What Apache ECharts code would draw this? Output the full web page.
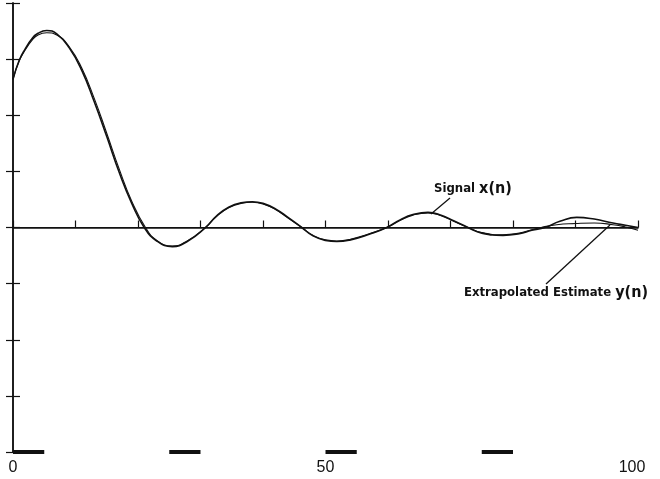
<!DOCTYPE html>
<html><head><meta charset="utf-8">
<script src="https://cdn.jsdelivr.net/npm/echarts@6/dist/echarts.min.js"></script>
<style>html,body{margin:0;padding:0;background:#fff}#c{width:660px;height:479px}</style>
</head><body><div id="c"></div>
<script>
// Signal x(n): hand-read points (n, value)
const signalN = [0, 1, 2, 3, 4, 5.4, 7, 9, 11, 13, 15, 17, 19, 21, 23, 25.5, 28, 30.8, 32.5, 34.5, 36.5, 38.3, 40, 42, 44, 46.2, 48, 50, 51.8, 54, 57, 59.8, 62, 64, 66.4, 68.5, 70.5, 72.8, 75, 78.4, 81, 83, 85.1, 87.5, 90.2, 93, 96, 98, 100];
const signalY = [2.64, 2.98, 3.19, 3.36, 3.46, 3.51, 3.45, 3.2, 2.8, 2.24, 1.62, 0.98, 0.43, 0, -0.24, -0.34, -0.24, 0, 0.2, 0.36, 0.44, 0.46, 0.43, 0.33, 0.18, 0, -0.15, -0.23, -0.25, -0.22, -0.12, 0, 0.14, 0.23, 0.27, 0.22, 0.12, 0, -0.1, -0.14, -0.11, -0.05, 0, 0.11, 0.18, 0.15, 0.08, 0.04, 0.0];
// Extrapolated estimate y(n)
const estimateN = [0, 1, 2, 3, 4, 5.4, 7, 9, 11, 13, 15, 17, 19, 21.2, 23, 25.5, 28, 30.8, 32.5, 34.5, 36.5, 38.3, 40, 42, 44, 46.2, 48, 50, 51.8, 54, 57, 59.8, 62, 64, 66.4, 68.5, 70.5, 72.8, 75, 78.4, 81, 83, 84.5, 87, 90, 93, 96, 98, 100];
const estimateY = [2.64, 2.97, 3.17, 3.33, 3.43, 3.47, 3.43, 3.22, 2.84, 2.3, 1.68, 1.04, 0.47, 0, -0.23, -0.33, -0.23, 0, 0.19, 0.35, 0.43, 0.45, 0.42, 0.32, 0.17, 0, -0.14, -0.22, -0.24, -0.21, -0.11, 0, 0.13, 0.22, 0.26, 0.21, 0.11, 0, -0.09, -0.13, -0.1, -0.04, 0.0, 0.05, 0.07, 0.08, 0.05, 0.01, -0.05];
// Thick segments on the n axis
const observedSegments = [[0, 5], [25, 30], [50, 55], [75, 80]];
const xLabelValues = [0, 50, 100];
const signalLabel = 'Signal ';
const signalLabelVar = 'x(n)';
const estimateLabel = 'Extrapolated Estimate ';
const estimateLabelVar = 'y(n)';

const zip = (a, b) => a.map((v, i) => [v, b[i]]);
const chart = echarts.init(document.getElementById('c'));
const black = '#111';
const segSeries = observedSegments.map(s => ({
  type: 'line', data: [[s[0], -4], [s[1], -4]], symbol: 'none', clip: false,
  lineStyle: { color: black, width: 4 }, silent: true, z: 5
}));
const textFont = 'DejaVu Sans Condensed';
const labelRich = {
  a: { fontFamily: textFont, fontSize: 13, fontWeight: 'bold', fill: black },
  b: { fontFamily: textFont, fontSize: 16, fontWeight: 'bold', fill: black }
};
chart.setOption({
  animation: false,
  backgroundColor: '#fff',
  grid: { left: 13, right: 22, top: 3, bottom: 27 },
  xAxis: [{
    type: 'value', min: 0, max: 100, interval: 10,
    axisLine: { lineStyle: { color: black, width: 1.5 } },
    axisTick: { inside: true, length: 7, lineStyle: { color: black, width: 1.2 } },
    axisLabel: { color: black, fontSize: 16, fontFamily: 'Liberation Sans', margin: 8,
      formatter: v => xLabelValues.includes(v) ? (v === 100 ? '{r|' + v + '}' : String(v)) : '',
      rich: { r: { fontSize: 16, fontFamily: 'Liberation Sans', color: black, padding: [0, 12, 0, 0] } } },
    splitLine: { show: false }
  }, {
    type: 'value', min: 0, max: 100, position: 'top',
    axisLine: { show: true, lineStyle: { color: black, width: 1.2 } },
    axisTick: { show: false }, axisLabel: { show: false }, splitLine: { show: false }
  }],
  yAxis: [{
    type: 'value', min: -4, max: 4, interval: 1,
    axisLine: { show: true, lineStyle: { color: black, width: 1.5 } },
    axisTick: { show: true, inside: true, length: 7, lineStyle: { color: black, width: 1.2 } },
    axisLabel: { show: false }, splitLine: { show: false }
  }, {
    type: 'value', min: -4, max: 4, interval: 1, position: 'right',
    axisLine: { show: true, lineStyle: { color: black, width: 1.5 } },
    axisTick: { show: true, inside: true, length: 7, lineStyle: { color: black, width: 1.2 } },
    axisLabel: { show: false }, splitLine: { show: false }
  }],
  series: [{
    name: 'Signal', type: 'line', data: zip(signalN, signalY), smooth: 0.5, symbol: 'none',
    lineStyle: { color: black, width: 1.6 }, z: 3,
    markLine: { silent: true, symbol: 'none', label: { show: false },
      lineStyle: { color: black, width: 1.2, type: 'solid' }, data: [{ yAxis: 0 }] }
  }, {
    name: 'Estimate', type: 'line', data: zip(estimateN, estimateY), smooth: 0.5, symbol: 'none',
    lineStyle: { color: black, width: 1.1 }, z: 2
  }].concat(segSeries),
  graphic: [
    { type: 'line', shape: { x1: 450, y1: 198, x2: 431, y2: 214 }, style: { stroke: black, lineWidth: 1.3 } },
    { type: 'text', left: 434, top: 181, style: { rich: labelRich,
      text: '{a|' + signalLabel + '}{b|' + signalLabelVar + '}' } },
    { type: 'line', shape: { x1: 610, y1: 225, x2: 546, y2: 284 }, style: { stroke: black, lineWidth: 1.3 } },
    { type: 'text', right: 12, top: 285, style: { rich: labelRich,
      text: '{a|' + estimateLabel + '}{b|' + estimateLabelVar + '}' } }
  ]
});
</script></body></html>
